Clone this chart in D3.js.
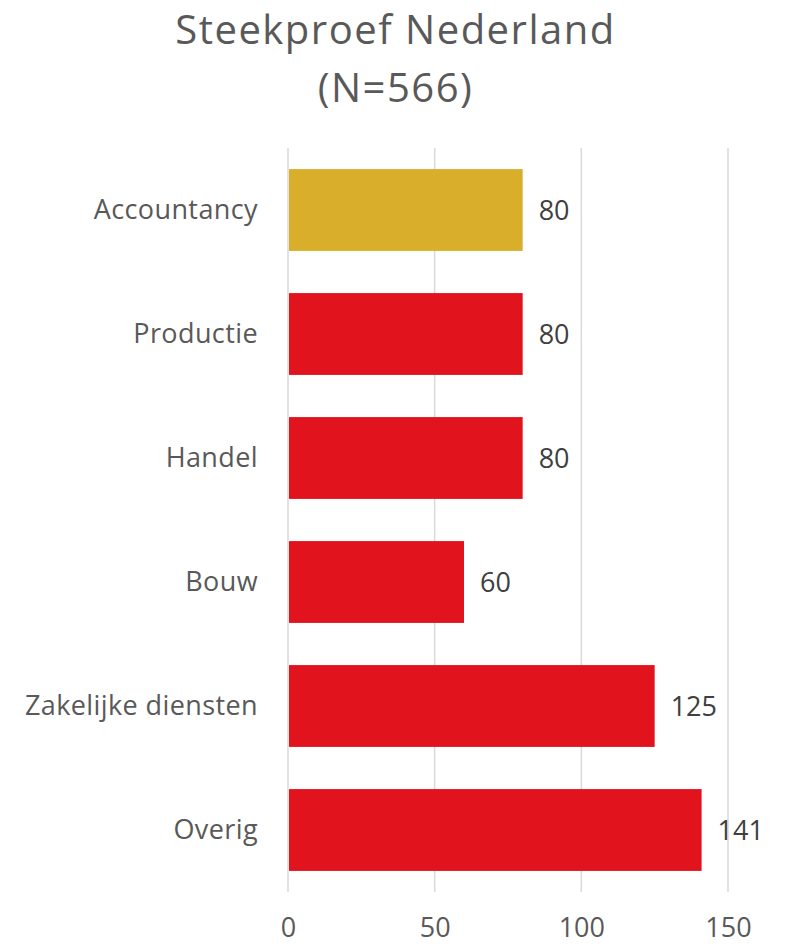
<!DOCTYPE html>
<html>
<head>
<meta charset="utf-8">
<script src="https://cdn.jsdelivr.net/npm/d3@7"></script>
<style>
  body { margin: 0; background: #fff; }
  svg text { font-family: "Open Sans", sans-serif; }
</style>
</head>
<body>
<div id="chart"></div>
<script>
// data
const categories = ['Accountancy', 'Productie', 'Handel', 'Bouw', 'Zakelijke diensten', 'Overig'];
const values = [80, 80, 80, 60, 125, 141];
const barColors = ['#D9AE2A', '#E1141E', '#E1141E', '#E1141E', '#E1141E', '#E1141E'];
const xTicks = [0, 50, 100, 150];
const titleLines = ['Steekproef Nederland', '(N=566)'];

const width = 791, height = 944;
const margin = { top: 148, right: 63, bottom: 52, left: 288 };

const svg = d3.select('#chart')
    .append('svg')
    .attr('width', width)
    .attr('height', height);

// scales
const x = d3.scaleLinear()
    .domain([0, 150])
    .range([margin.left, width - margin.right]);

const y = d3.scaleBand()
    .domain(categories)
    .range([margin.top, height - margin.bottom])
    .paddingInner(0.34)
    .paddingOuter(0.17);

// title
svg.append('g')
    .selectAll('text')
    .data(titleLines)
    .join('text')
    .attr('x', width / 2)
    .attr('y', (d, i) => 44 + i * 58)
    .attr('text-anchor', 'middle')
    .attr('font-size', '40px')
    .attr('letter-spacing', '1.5px')
    .attr('fill', '#595959')
    .text(d => d);

// gridlines
svg.append('g')
    .selectAll('line')
    .data(xTicks)
    .join('line')
    .attr('x1', d => x(d))
    .attr('x2', d => x(d))
    .attr('y1', margin.top)
    .attr('y2', height - margin.bottom)
    .attr('stroke', '#D9D9D9')
    .attr('stroke-width', 1.5);

// x axis tick labels
const xAxis = svg.append('g')
    .attr('transform', `translate(0,${height - margin.bottom})`)
    .call(d3.axisBottom(x).tickValues(xTicks).tickSize(0).tickPadding(0));
xAxis.select('.domain').remove();
xAxis.selectAll('text')
    .attr('dy', null)
    .attr('y', 45)
    .attr('font-size', '27px')
    .attr('fill', '#595959')
    .style('font-family', null);

// bars
svg.append('g')
    .selectAll('rect')
    .data(values)
    .join('rect')
    .attr('x', x(0) + 1)
    .attr('y', (d, i) => y(categories[i]))
    .attr('width', d => x(d) - x(0) - 1)
    .attr('height', y.bandwidth())
    .attr('fill', (d, i) => barColors[i]);

// value labels
svg.append('g')
    .selectAll('text')
    .data(values)
    .join('text')
    .attr('x', d => x(d) + 16)
    .attr('y', (d, i) => y(categories[i]) + y.bandwidth() / 2)
    .attr('dy', '0.36em')
    .attr('font-size', '27px')
    .attr('fill', '#404040')
    .text(d => d);

// category labels
const yAxis = svg.append('g')
    .attr('transform', `translate(${margin.left},0)`)
    .call(d3.axisLeft(y).tickSize(0).tickPadding(30));
yAxis.select('.domain').remove();
yAxis.selectAll('text')
    .attr('font-size', '27px')
    .attr('letter-spacing', '0.4px')
    .attr('fill', '#595959')
    .style('font-family', null);
</script>
</body>
</html>
